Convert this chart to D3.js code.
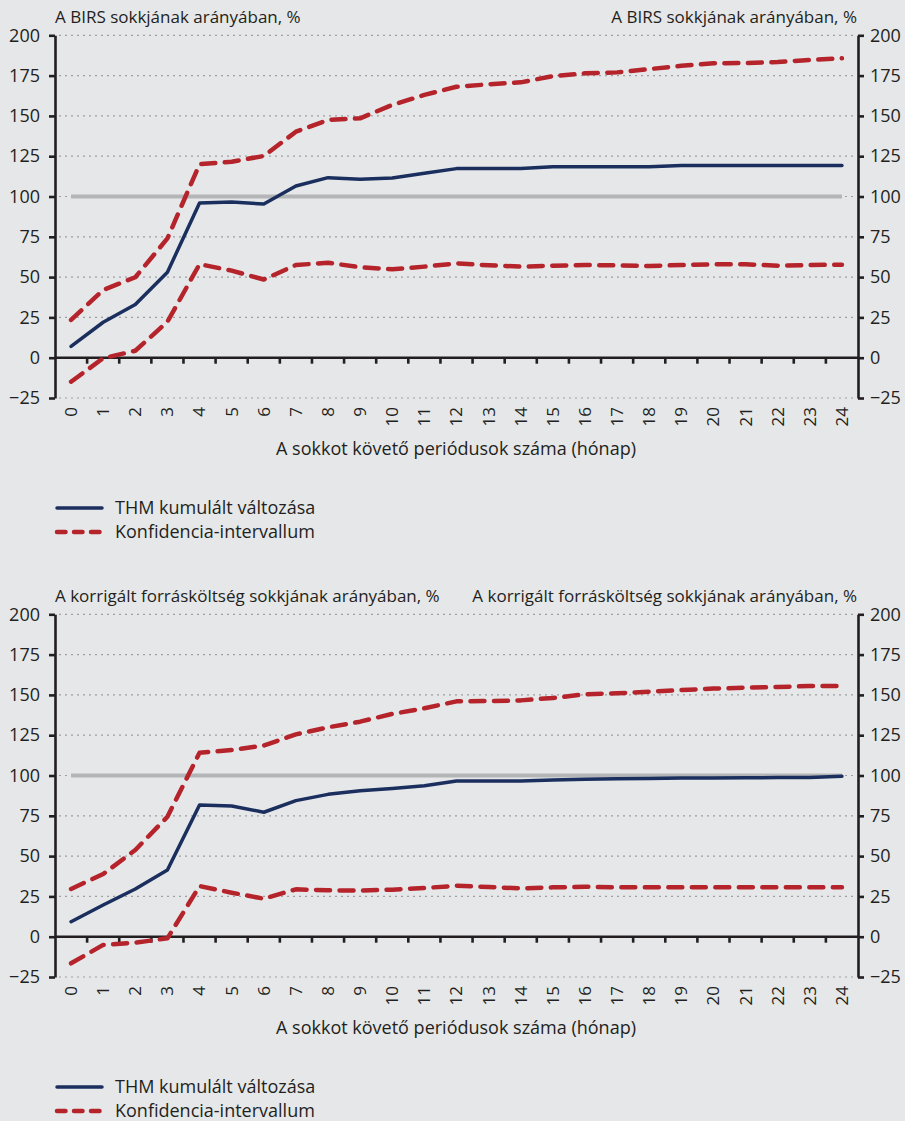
<!DOCTYPE html>
<html>
<head>
<meta charset="utf-8">
<script src="https://cdn.jsdelivr.net/npm/d3@7"></script>
<style>
  html, body { margin: 0; padding: 0; background: #e6e7e9; }
  svg { display: block; font-family: "Open Sans", Lato, sans-serif; }
</style>
</head>
<body>
<svg id="chart" width="905" height="1121"></svg>
<script>
// Months after the shock (x categories)
const months = ["0","1","2","3","4","5","6","7","8","9","10","11","12",
                "13","14","15","16","17","18","19","20","21","22","23","24"];
const yTicks = [-25, 0, 25, 50, 75, 100, 125, 150, 175, 200];
const refLevel = 100;

const birsTitle = "A BIRS sokkjának arányában, %";
const costTitle = "A korrigált forrásköltség sokkjának arányában, %";
const xTitle = "A sokkot követő periódusok száma (hónap)";
const legendLabels = ["THM kumulált változása", "Konfidencia-intervallum"];

// Panel 1: response to the BIRS shock
const birsThm   = [7, 22, 33, 53, 96, 96.6, 95.3, 106.5, 111.7, 110.7, 111.5, 114.4, 117.3,
                   117.3, 117.3, 118.5, 118.5, 118.5, 118.5, 119.3, 119.3, 119.3, 119.3, 119.3, 119.3];
const birsUpper = [23.4, 42, 49.9, 74, 120, 121.6, 125.1, 140.2, 147.5, 148.5, 156.8, 163, 168.1,
                   169.6, 170.8, 174.7, 176.4, 177, 179, 181.1, 182.6, 182.8, 183.4, 184.7, 185.7];
const birsLower = [-14.9, -0.3, 4.3, 22.3, 58, 54, 48.5, 57.5, 58.9, 56.1, 54.8, 56.5, 58.5,
                   57.3, 56.5, 57.1, 57.5, 57.3, 56.9, 57.5, 57.9, 57.9, 57.1, 57.5, 57.7];

// Panel 2: response to the adjusted funding cost shock
const costThm   = [9.3, 19.7, 29.6, 41.4, 81.7, 81.1, 77.2, 84.4, 88.3, 90.6, 92, 93.7, 96.6,
                   96.6, 96.6, 97.2, 97.6, 98, 98.2, 98.4, 98.5, 98.6, 98.7, 98.8, 99.5];
const costUpper = [29.6, 38.9, 53.8, 74.4, 114.1, 115.8, 118.6, 125.5, 129.9, 133.4, 138.2, 141.7, 146,
                   146.2, 146.6, 148.1, 150.4, 151, 152, 153, 153.9, 154.5, 154.9, 155.5, 155.5];
const costLower = [-16.5, -5.1, -3.7, -1, 31.4, 27.3, 23.6, 29.4, 28.8, 28.6, 29.2, 30.2, 31.6,
                   30.8, 30, 30.6, 31, 30.6, 30.6, 30.6, 30.6, 30.6, 30.6, 30.6, 30.6];

const W = 905, H = 1121;
const ink = "#231f20";
const navy = "#1b2f5e";
const red = "#b5232b";
const refGray = "#b3b5b7";
const fontFamily = "'Open Sans', Lato, sans-serif";

const svg = d3.select("#chart");
svg.append("rect").attr("width", W).attr("height", H).attr("fill", "#e6e7e9");

const left = 55, right = 858;
const x = d3.scaleBand().domain(months).range([left, right]).padding(0);
const cx = m => x(m) + x.bandwidth() / 2;

function panel(top, title, thm, upper, lower) {
  const g = svg.append("g").attr("transform", `translate(0,${top})`);
  const y = d3.scaleLinear().domain([-25, 200]).range([398, 35.3]);

  // dotted horizontal gridlines
  g.append("g").selectAll("line").data(yTicks).join("line")
    .attr("x1", left + 4).attr("x2", right - 2)
    .attr("y1", d => y(d)).attr("y2", d => y(d))
    .attr("stroke", "#9d9fa1").attr("stroke-width", 1.2)
    .attr("stroke-dasharray", "2,4");

  // titles above both axes
  g.append("text").attr("x", left).attr("y", 22.5)
    .attr("font-size", 17).attr("fill", ink).text(title);
  g.append("text").attr("x", right - 1).attr("y", 22.5).attr("text-anchor", "end")
    .attr("font-size", 17).attr("fill", ink).text(title);

  // left and right value axes
  const styleAxis = sel => {
    sel.select(".domain").attr("stroke", ink).attr("stroke-width", 2.6);
    sel.selectAll(".tick line").attr("stroke", ink).attr("stroke-width", 2.6);
    sel.selectAll(".tick text").attr("fill", ink).attr("font-size", 18)
      .attr("font-family", fontFamily);
  };
  g.append("g").attr("transform", `translate(${left},0)`)
    .call(d3.axisLeft(y).tickValues(yTicks).tickSize(6).tickSizeOuter(0).tickPadding(9))
    .call(styleAxis);
  g.append("g").attr("transform", `translate(${right},0)`)
    .call(d3.axisRight(y).tickValues(yTicks).tickSize(6).tickSizeOuter(0).tickPadding(6))
    .call(styleAxis);

  // horizontal axis on the zero level with ticks between months
  g.append("line").attr("x1", left).attr("x2", right)
    .attr("y1", y(0)).attr("y2", y(0))
    .attr("stroke", ink).attr("stroke-width", 2.6);
  g.append("g").selectAll("line").data(months.slice(1)).join("line")
    .attr("x1", m => x(m)).attr("x2", m => x(m))
    .attr("y1", y(0)).attr("y2", y(0) + 6)
    .attr("stroke", ink).attr("stroke-width", 2.6);

  // month labels, rotated
  g.append("g").selectAll("text").data(months).join("text")
    .attr("transform", m => `translate(${cx(m)},407) rotate(-90)`)
    .attr("text-anchor", "end").attr("dy", "0.35em")
    .attr("font-size", 17).attr("fill", ink).text(m => m);

  g.append("text").attr("x", 456).attr("y", 455).attr("text-anchor", "middle")
    .attr("font-size", 18).attr("fill", ink).text(xTitle);

  // reference level
  g.append("line")
    .attr("x1", cx(months[0])).attr("x2", cx(months[months.length - 1]))
    .attr("y1", y(refLevel)).attr("y2", y(refLevel))
    .attr("stroke", refGray).attr("stroke-width", 4);

  const line = d3.line().x((d, i) => cx(months[i])).y(d => y(d));

  [upper, lower].forEach(series => {
    g.append("path").datum(series).attr("d", line)
      .attr("fill", "none").attr("stroke", red).attr("stroke-width", 4.5)
      .attr("stroke-linecap", "round").attr("stroke-linejoin", "round")
      .attr("stroke-dasharray", "14,9.5");
  });
  g.append("path").datum(thm).attr("d", line)
    .attr("fill", "none").attr("stroke", navy).attr("stroke-width", 3.5)
    .attr("stroke-linejoin", "round").attr("stroke-linecap", "round");

  // legend
  const lg = g.append("g");
  lg.append("line").attr("x1", 57).attr("x2", 102).attr("y1", 508).attr("y2", 508)
    .attr("stroke", navy).attr("stroke-width", 3.5).attr("stroke-linecap", "round");
  lg.append("line").attr("x1", 57).attr("x2", 101).attr("y1", 532).attr("y2", 532)
    .attr("stroke", red).attr("stroke-width", 4.5).attr("stroke-linecap", "round")
    .attr("stroke-dasharray", "8.5,8.5");
  lg.selectAll("text").data(legendLabels).join("text")
    .attr("x", 115).attr("y", (d, i) => 508 + i * 24).attr("dy", "0.35em")
    .attr("font-size", 18).attr("fill", ink).text(d => d);
}

panel(0, birsTitle, birsThm, birsUpper, birsLower);
panel(579, costTitle, costThm, costUpper, costLower);
</script>
</body>
</html>
